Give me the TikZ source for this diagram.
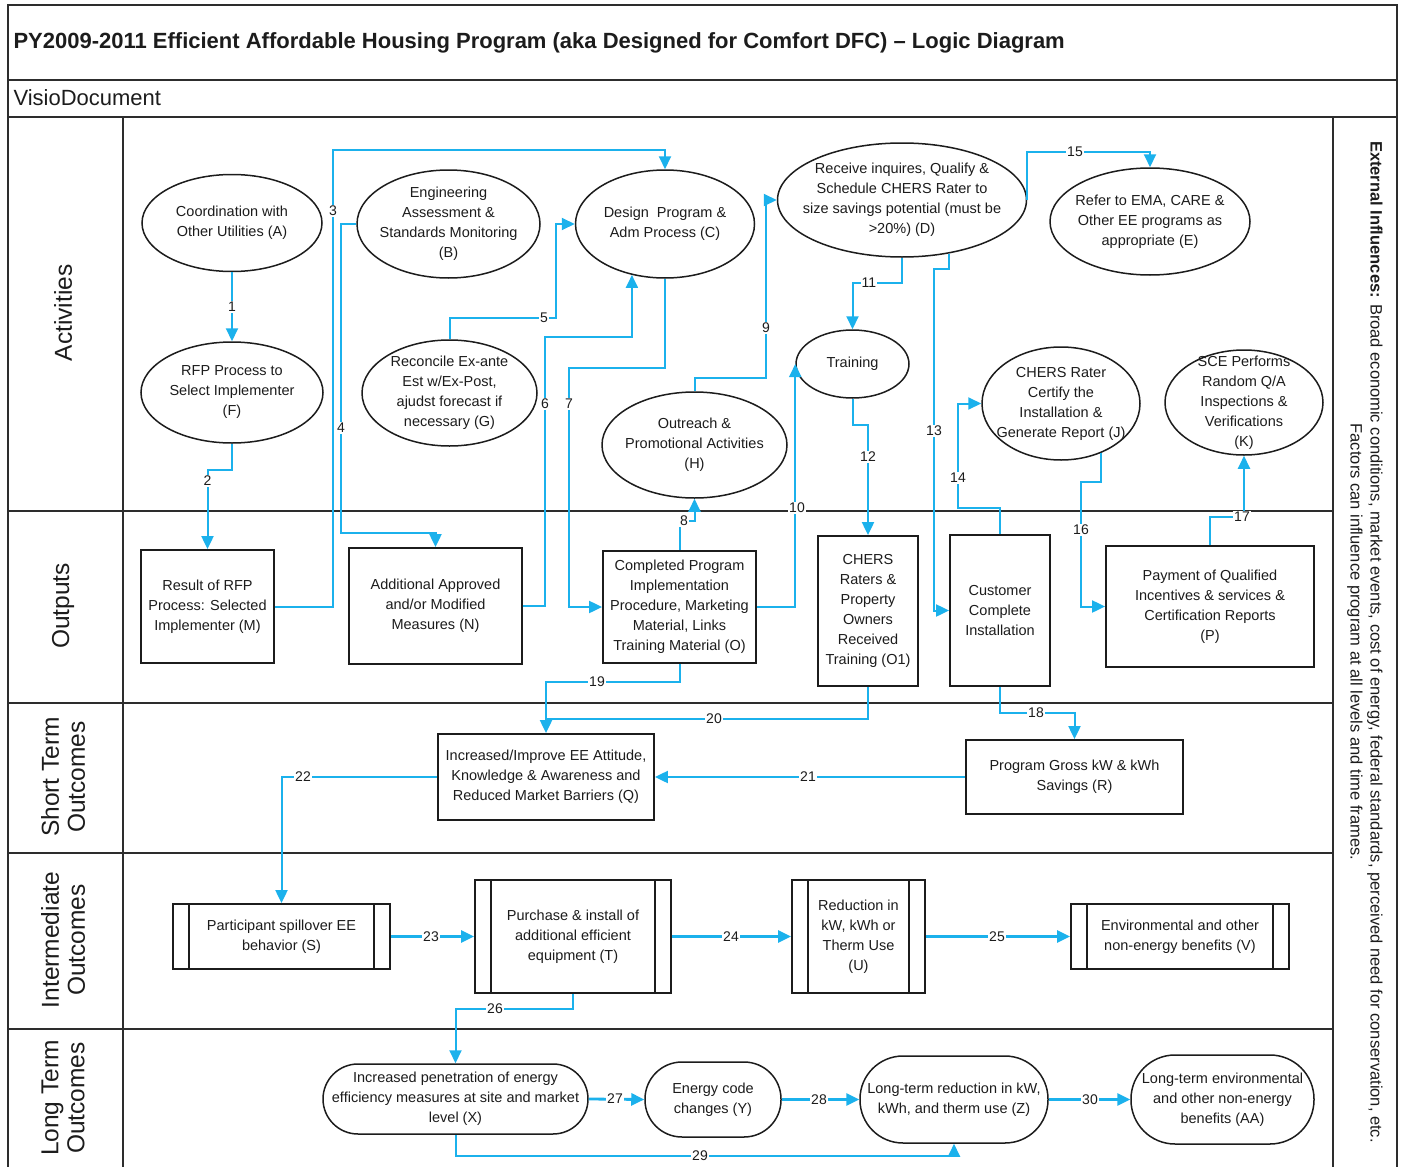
\documentclass[tikz,border=0pt]{standalone}
\usepackage{fontspec}
\setmainfont{Liberation Sans}
\usetikzlibrary{shapes.geometric,arrows.meta,calc}
\definecolor{flow}{RGB}{27,177,236}
\definecolor{ink}{RGB}{28,28,28}
\definecolor{rule}{RGB}{45,45,45}
\begin{document}
\begin{tikzpicture}[x=1pt,y=-1pt,
  every node/.style={text=ink},
  body/.style={font=\fontsize{14.5}{20}\selectfont},
  act/.style={ellipse, draw=ink, line width=1.5pt, inner sep=0pt, fill=white},
  txt/.style={body, align=center, inner sep=0pt},
  outbox/.style={rectangle, draw=ink, line width=1.8pt, inner sep=0pt, align=center, body, fill=white},
  midbox/.style={rectangle, draw=ink, line width=1.8pt, inner sep=0pt, align=center, body, fill=white},
  longbox/.style={rectangle, draw=ink, line width=1.5pt, inner sep=0pt, align=center, body, fill=white},
  lane/.style={rotate=90, align=center, font=\fontsize{24.5}{26}\selectfont},
  frame/.style={draw=rule, line width=2pt},
  laneline/.style={draw=rule, line width=2.8pt},
  conn/.style={draw=flow, line width=2pt, -{Triangle[length=13pt,width=12pt]}},
  connthick/.style={conn, line width=2.8pt},
  plainconn/.style={draw=flow, line width=2pt},
  lbl/.style={fill=white, inner sep=1pt, font=\fontsize{14}{14}\selectfont}
]
\useasboundingbox (0,0) rectangle (1401,1167);

% ---- frame and swim lanes ----
\draw[frame] (8,1167) -- (8,5) -- (1397,5) -- (1397,1167);
\draw[frame] (8,80) -- (1397,80);
\draw[laneline] (8,117) -- (1397,117);
\draw[frame] (123,117) -- (123,1167);
\draw[frame] (1333,117) -- (1333,1167);
\foreach \yy in {511,703,853,1029} \draw[laneline] (8,\yy) -- (1333,\yy);

\node[anchor=west, font=\bfseries\fontsize{22}{26}\selectfont] (title) at (10,43)
  {PY2009-2011 Efficient Affordable Housing Program (aka Designed for Comfort DFC) -- Logic Diagram};
\node[anchor=west, font=\fontsize{22}{26}\selectfont] (visio) at (10,98) {VisioDocument};

\node[lane] (la1) at (63,313) {Activities};
\node[lane] (la2) at (63,606) {Outputs};
\node[lane] (la3) at (63,777) {Short Term\\Outcomes};
\node[lane] (la4) at (63,940) {Intermediate\\Outcomes};
\node[lane] (la5) at (63,1098) {Long Term\\Outcomes};

\node[rotate=-90, align=center, font=\fontsize{16.5}{20}\selectfont] (ext) at (1365,642)
  {\textbf{External Influences:} Broad economic conditions, market events, cost of energy, federal standards, perceived need for conservation, etc.\\
   Factors can influence program at all levels and time frames.};

% ---- activities ----
\node[act, minimum width=180pt, minimum height=97pt] (A) at (232,223) {};
\node[txt] (At) at (A) {Coordination with\\Other Utilities (A)};
\node[act, minimum width=182pt, minimum height=101pt] (F) at (232,392.5) {};
\node[txt] (Ft) at (F) {RFP Process to\\Select Implementer\\(F)};
\node[act, minimum width=183pt, minimum height=108pt] (B) at (448.5,224) {};
\node[txt] (Bt) at (B) {Engineering\\Assessment \&\\Standards Monitoring\\(B)};
\node[act, minimum width=175pt, minimum height=106pt] (G) at (449.5,393) {};
\node[txt] (Gt) at (G) {Reconcile Ex-ante\\Est w/Ex-Post,\\ajudst forecast if\\necessary (G)};
\node[act, minimum width=179pt, minimum height=108pt] (C) at (665,224) {};
\node[txt] (Ct) at (C) {Design\ \ Program \&\\Adm Process (C)};
\node[act, minimum width=185pt, minimum height=106pt] (H) at (694.5,445) {};
\node[txt] (Ht) at (H) {Outreach \&\\Promotional Activities\\(H)};
\node[act, minimum width=249pt, minimum height=114pt] (D) at (902,200) {};
\node[txt] (Dt) at (D) {Receive inquires, Qualify \&\\Schedule CHERS Rater to\\size savings potential (must be\\>20\%) (D)};
\node[act, minimum width=113pt, minimum height=68pt] (Tr) at (852.5,364) {};
\node[txt] (Trt) at (Tr) {Training};
\node[act, minimum width=200pt, minimum height=107pt] (E) at (1150,221.5) {};
\node[txt] (Et) at (E) {Refer to EMA, CARE \&\\Other EE programs as\\appropriate (E)};
\node[act, minimum width=158pt, minimum height=113pt] (J) at (1061,403.5) {};
\node[txt] (Jt) at (J) {CHERS Rater\\Certify the\\Installation \&\\Generate Report (J)};
\node[act, minimum width=158pt, minimum height=105pt] (K) at (1244,402.5) {};
\node[txt] (Kt) at (K) {SCE Performs\\Random Q/A\\Inspections \&\\Verifications\\(K)};

% ---- outputs ----
\node[outbox, minimum width=133pt, minimum height=113pt] (M) at (207.5,606.5) {Result of RFP\\Process: Selected\\Implementer (M)};
\node[outbox, minimum width=173pt, minimum height=116pt] (N) at (435.5,606) {Additional Approved\\and/or Modified\\Measures (N)};
\node[outbox, minimum width=153pt, minimum height=112pt] (O) at (679.5,607) {Completed Program\\Implementation\\Procedure, Marketing\\Material, Links\\Training Material (O)};
\node[outbox, minimum width=100pt, minimum height=150pt] (O1) at (868,611) {CHERS\\Raters \&\\Property\\Owners\\Received\\Training (O1)};
\node[outbox, minimum width=100pt, minimum height=151pt] (CCI) at (1000,610.5) {Customer\\Complete\\Installation};
\node[outbox, minimum width=208pt, minimum height=121pt] (P) at (1210,606.5) {Payment of Qualified\\Incentives \& services \&\\Certification Reports\\(P)};

% ---- short term outcomes ----
\node[outbox, minimum width=216pt, minimum height=86pt] (Q) at (546,777) {Increased/Improve EE Attitude,\\Knowledge \& Awareness and\\Reduced Market Barriers (Q)};
\node[outbox, minimum width=217pt, minimum height=74pt] (R) at (1074.5,777) {Program Gross kW \& kWh\\Savings (R)};

% ---- intermediate outcomes (boxes with side bars) ----
\node[midbox, minimum width=217pt, minimum height=65pt] (S) at (281.5,936.5) {Participant spillover EE\\behavior (S)};
\node[midbox, minimum width=196pt, minimum height=113pt] (T) at (573,936.5) {Purchase \& install of\\additional efficient\\equipment (T)};
\node[midbox, minimum width=133pt, minimum height=113pt] (U) at (858.5,936.5) {Reduction in\\kW, kWh or\\Therm Use\\(U)};
\node[midbox, minimum width=218pt, minimum height=65pt] (V) at (1180,936.5) {Environmental and other\\non-energy benefits (V)};
\foreach \n in {S,T,U,V} {
  \draw[draw=ink, line width=1.8pt] ([xshift=17pt]\n.north west) -- ([xshift=17pt]\n.south west);
  \draw[draw=ink, line width=1.8pt] ([xshift=-17pt]\n.north east) -- ([xshift=-17pt]\n.south east);
}

% ---- long term outcomes ----
\node[longbox, rounded corners=35pt, minimum width=265pt, minimum height=70pt] (X) at (455.5,1099) {Increased penetration of energy\\efficiency measures at site and market\\level (X)};
\node[longbox, rounded corners=37pt, minimum width=136pt, minimum height=75pt] (Y) at (713,1099.5) {Energy code\\changes (Y)};
\node[longbox, rounded corners=43pt, minimum width=188pt, minimum height=87pt] (Z) at (954,1099.5) {Long-term reduction in kW,\\kWh, and therm use (Z)};
\node[longbox, rounded corners=44pt, minimum width=183pt, minimum height=89pt] (AA) at (1222.5,1099.5) {Long-term environmental\\and other non-energy\\benefits (AA)};

% ---- connectors ----
\draw[conn] (A.south) -- (F.north);
\draw[conn] (F.south) |- (207.5,470) -- (M.north);
\draw[conn] (M.east) -| (333,150) -| (C.north);
\draw[conn] (B.west) -| (341,533) -| (N.north);
\draw[conn] (G.north) |- (556,318) |- (C.west);
\draw[conn] (N.east) -| (545,337) -| (C.237);
\draw[conn] (C.south) |- (569,368) |- (O.west);
\draw[conn] (O.north) |- (694.5,521) -- (H.south);
\draw[conn] (H.north) |- (766,378) |- (D.west);
\draw[conn] (O.east) -| (Tr.west);
\draw[conn] (D.south) |- (852.5,283) -- (Tr.north);
\draw[conn] (Tr.south) |- (868,425) -- (O1.north);
\draw[conn] (D.-49) |- (934,269) |- (CCI.west);
\draw[conn] (CCI.north) |- (958,508) |- (J.west);
\draw[conn] (D.east) |- (1150,152) -- (E.north);
\draw[conn] (J.-51) |- (1081,482) |- (P.west);
\draw[conn] (P.north) |- (1244,517) -- (K.south);
\draw[conn] (CCI.south) |- (1074.5,713) -- (R.north);
\draw[plainconn] (O1.south) |- (546,719);
\draw[conn] (O.south) |- (546,682) -- (Q.north);
\draw[conn] (R.west) -- (Q.east);
\draw[conn] (Q.west) -| (S.north);
\draw[connthick] (S.east) -- (T.west);
\draw[connthick] (T.east) -- (U.west);
\draw[connthick] (U.east) -- (V.west);
\draw[conn] (T.south) |- (455.5,1009) -- (X.north);
\draw[connthick] (X.east) -- (Y.west);
\draw[connthick] (Y.east) -- (Z.west);
\draw[conn] (X.south) |- (954,1156) -- (Z.south);
\draw[connthick] (Z.east) -- (AA.west);

% ---- connector numbers ----
\node[lbl] (l1) at (232,307) {1};
\node[lbl] (l2) at (207.5,481) {2};
\node[lbl] (l3) at (333,211) {3};
\node[lbl] (l4) at (341,428) {4};
\node[lbl] (l5) at (544,318) {5};
\node[lbl] (l6) at (545,404) {6};
\node[lbl] (l7) at (569,404) {7};
\node[lbl] (l8) at (684,521) {8};
\node[lbl] (l9) at (766,328) {9};
\node[lbl] (l10) at (797,508) {10};
\node[lbl] (l11) at (869,283) {11};
\node[lbl] (l12) at (868,457) {12};
\node[lbl] (l13) at (934,431) {13};
\node[lbl] (l14) at (958,478) {14};
\node[lbl] (l15) at (1075,152) {15};
\node[lbl] (l16) at (1081,530) {16};
\node[lbl] (l17) at (1242,517) {17};
\node[lbl] (l18) at (1036,713) {18};
\node[lbl] (l19) at (597,682) {19};
\node[lbl] (l20) at (714,719) {20};
\node[lbl] (l21) at (808,777) {21};
\node[lbl] (l22) at (303,777) {22};
\node[lbl] (l23) at (431,936.5) {23};
\node[lbl] (l24) at (731,936.5) {24};
\node[lbl] (l25) at (997,936.5) {25};
\node[lbl] (l26) at (495,1009) {26};
\node[lbl] (l27) at (615,1099) {27};
\node[lbl] (l28) at (819,1099.5) {28};
\node[lbl] (l29) at (700,1156) {29};
\node[lbl] (l30) at (1090,1099.5) {30};
\end{tikzpicture}
\end{document}
